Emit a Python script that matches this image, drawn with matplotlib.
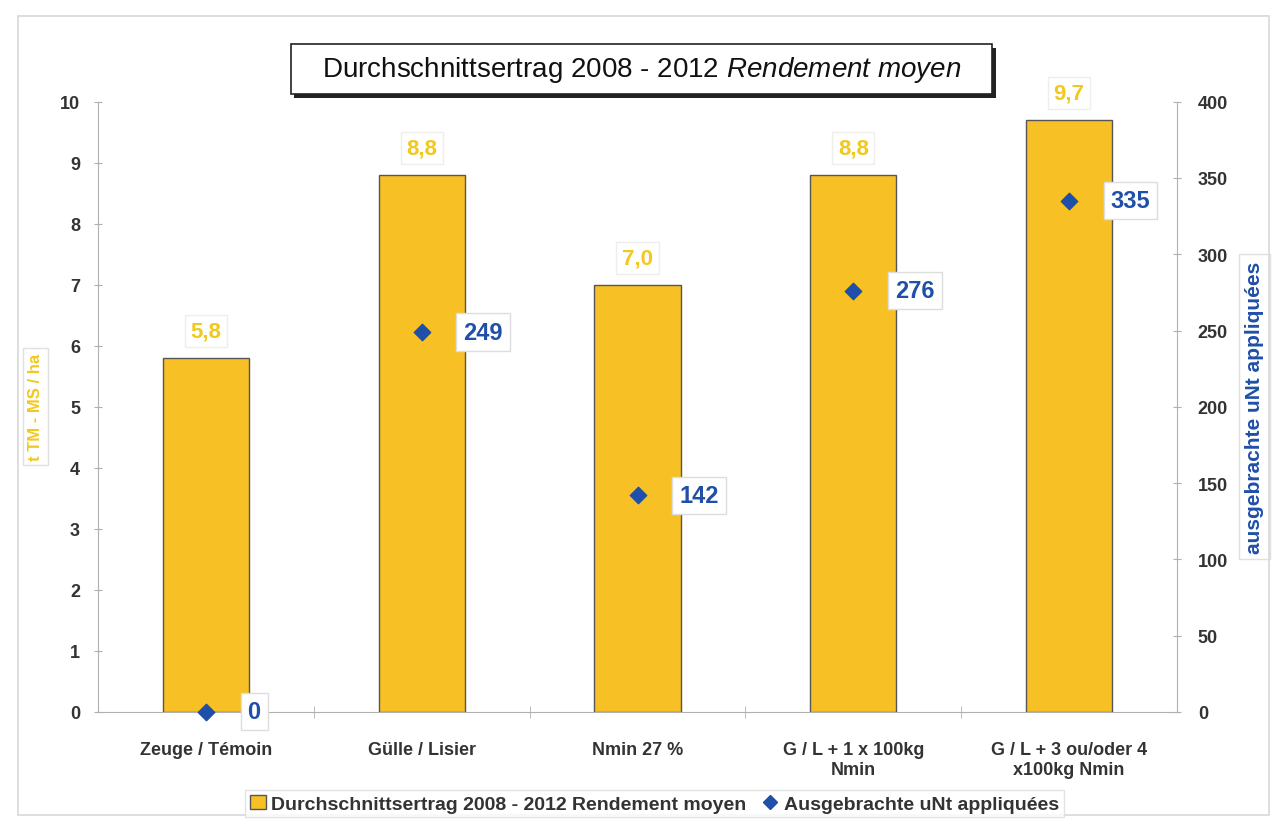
import numpy as np
import matplotlib.pyplot as plt
from matplotlib.patches import Rectangle
from matplotlib.lines import Line2D

plt.rcParams['font.family'] = ['Liberation Sans', 'DejaVu Sans']
plt.rcParams['mathtext.fontset'] = 'custom'
plt.rcParams['mathtext.rm'] = 'Liberation Sans'
plt.rcParams['mathtext.it'] = 'Liberation Sans:italic'

# data
categories = ['Zeuge / Témoin', 'Gülle / Lisier', 'Nmin 27 %',
              'G / L + 1 x 100kg\nNmin', 'G / L + 3 ou/oder 4\nx100kg Nmin']
yield_t = [5.8, 8.8, 7.0, 8.8, 9.7]
yield_labels = ['5,8', '8,8', '7,0', '8,8', '9,7']
n_applied = [0, 249, 142, 276, 335]

bar_color = '#F7C125'
blue = '#1F4FA8'
yellow_txt = '#F2C81E'
grey = '#b0b0b0'

fig = plt.figure(figsize=(12.83, 8.28), dpi=100)
fig.patches.append(Rectangle((0.014, 0.015), 0.975, 0.965, transform=fig.transFigure,
                             fill=False, edgecolor='#d8d8d8', lw=1.2))

ax = fig.add_axes([0.0764, 0.139, 0.841, 0.737])
x = np.arange(len(categories))
ax.bar(x, yield_t, width=0.4, color=bar_color, edgecolor='#555555', lw=1.0, zorder=2)
ax.set_xlim(-0.5, len(categories) - 0.5)
ax.set_ylim(0, 10)
ax.set_yticks(range(0, 11))
ax.set_xticks(x)
ax.set_xticklabels(categories, fontsize=13, fontweight='bold', color='#333333')
ax.set_xticks(np.arange(0.5, len(categories) - 0.5), minor=True)
ax.tick_params(axis='x', which='minor', length=8, direction='inout', color=grey)
ax.tick_params(axis='y', labelsize=13, colors='#333333', length=6, direction='inout',
               color=grey, pad=10)
for lab in ax.get_yticklabels():
    lab.set_fontweight('bold')
ax.tick_params(axis='x', which='major', length=0, pad=21)
for s in ['top', 'right']:
    ax.spines[s].set_visible(False)
ax.spines['left'].set_color(grey)
ax.spines['bottom'].set_color(grey)
ax.set_ylabel('t TM - MS / ha', color=yellow_txt, fontsize=12, fontweight='bold', labelpad=12,
              bbox=dict(boxstyle='square,pad=0.3', fc='white', ec='#e0e0e0'))

for xi, v, lab in zip(x, yield_t, yield_labels):
    ax.annotate(lab, (xi, v), xytext=(0, 12), textcoords='offset points', ha='center',
                va='bottom', fontsize=16, color=yellow_txt, fontweight='bold',
                bbox=dict(boxstyle='square,pad=0.25', fc='white', ec='#eeeeee'))

ax2 = ax.twinx()
ax2.set_ylim(0, 400)
ax2.set_yticks(range(0, 401, 50))
ax2.scatter(x, n_applied, marker='D', s=70, color=blue, zorder=4, clip_on=False)
ax2.tick_params(axis='y', labelsize=13, colors='#333333', length=6, direction='inout',
                color=grey, pad=12)
for lab in ax2.get_yticklabels():
    lab.set_fontweight('bold')
for s in ['top', 'left', 'bottom']:
    ax2.spines[s].set_visible(False)
ax2.spines['right'].set_color(grey)
ax2.set_ylabel('ausgebrachte uNt appliquées', color=blue, fontsize=15, fontweight='bold',
               labelpad=12, bbox=dict(boxstyle='square,pad=0.3', fc='white', ec='#e0e0e0'))
for xi, v in zip(x, n_applied):
    ax2.annotate(str(v), (xi, v), xytext=(30, 0), textcoords='offset points', ha='left',
                 va='center', fontsize=17, color=blue, fontweight='bold',
                 bbox=dict(boxstyle='square,pad=0.3', fc='white', ec='#dddddd'))

# title box with drop shadow
fig.patches.append(Rectangle((0.2295, 0.880), 0.547, 0.061, transform=fig.transFigure,
                             fc='#222222', ec='none', zorder=1))
fig.patches.append(Rectangle((0.2265, 0.885), 0.547, 0.061, transform=fig.transFigure,
                             fc='white', ec='#222222', lw=1.2, zorder=2))
fig.text(0.500, 0.9155, 'Durchschnittsertrag 2008 - 2012 $\\it{Rendement\\ moyen}$',
         ha='center', va='center', fontsize=20, color='#111111', zorder=3)

handles = [Rectangle((0, 0), 1, 1, fc=bar_color, ec='#555555'),
           Line2D([], [], marker='D', color=blue, ls='none', markersize=7)]
leg = fig.legend(handles, ['Durchschnittsertrag 2008 - 2012 Rendement moyen',
                           'Ausgebrachte uNt appliquées'],
                 loc='center', bbox_to_anchor=(0.51, 0.028), ncol=2,
                 prop={'size': 14, 'weight': 'bold'},
                 frameon=True, edgecolor='#dddddd', fancybox=False, handlelength=0.8,
                 handletextpad=0.3, columnspacing=0.8, borderpad=0.25)
for t in leg.get_texts():
    t.set_color('#333333')

fig.savefig('out.png', dpi=100)
